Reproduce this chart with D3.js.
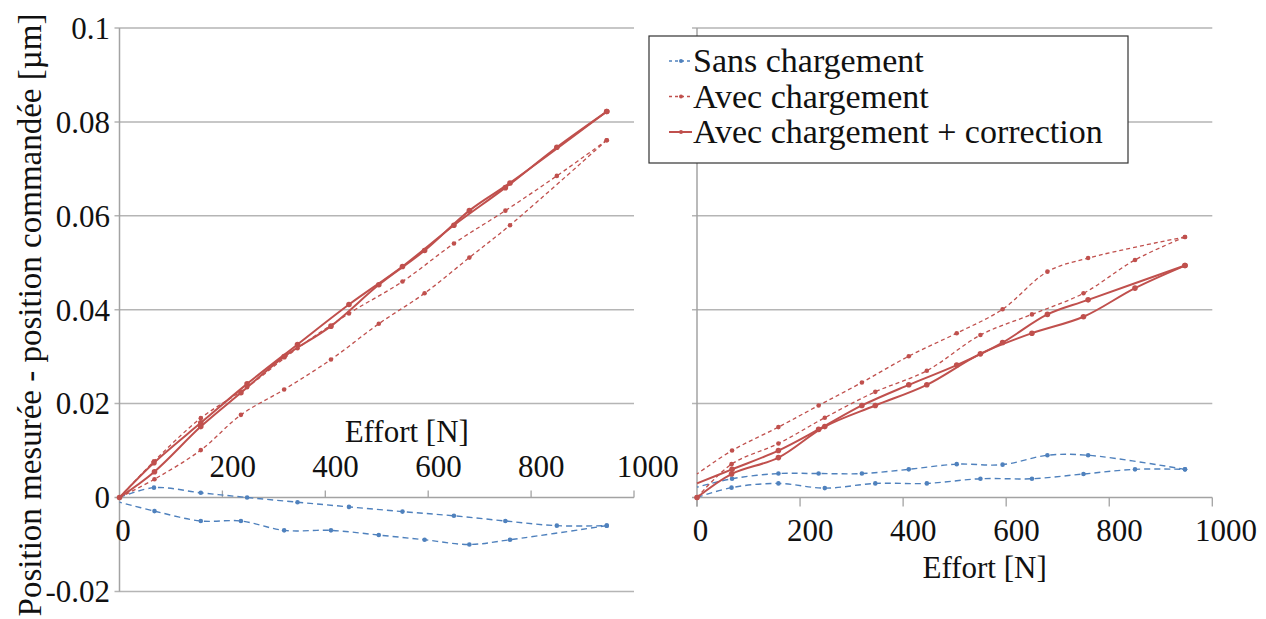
<!DOCTYPE html>
<html>
<head>
<meta charset="utf-8">
<script src="https://cdn.jsdelivr.net/npm/d3@7"></script>
<style>
  body { margin: 0; background: #fff; }
</style>
</head>
<body>
<script>
var w = 1266;
var h = 619;

// efforts [N] : montée (aller) puis descente (retour)
var effortAller  = [0, 67, 158, 248, 346, 446, 550, 650, 750, 850, 947];
var effortRetour = [947, 759, 680, 593, 504, 411, 320, 236, 158, 68, 0];

// panneau gauche
var sansG_aller  = [0, 0.0021, 0.0010, 0.0000, -0.0010, -0.0020, -0.0030, -0.0039, -0.0050, -0.0060, -0.0060];
var sansG_retour = [-0.0060, -0.0090, -0.0100, -0.0090, -0.0080, -0.0070, -0.0070, -0.0050, -0.0050, -0.0029, -0.0010];
var avecG_aller  = [0, 0.0077, 0.0169, 0.0235, 0.0318, 0.0392, 0.0460, 0.0541, 0.0611, 0.0685, 0.0761];
var avecG_retour = [0.0761, 0.0580, 0.0511, 0.0435, 0.0370, 0.0294, 0.0230, 0.0176, 0.0101, 0.0039, 0];
var corrG_aller  = [0, 0.0074, 0.0159, 0.0242, 0.0326, 0.0411, 0.0492, 0.0580, 0.0660, 0.0746, 0.0822];
var corrG_retour = [0.0822, 0.0670, 0.0611, 0.0526, 0.0453, 0.0365, 0.0300, 0.0223, 0.0151, 0.0055, 0];

// panneau droit
var sansD_aller  = [0, 0.0021, 0.0030, 0.0020, 0.0030, 0.0030, 0.0040, 0.0040, 0.0050, 0.0060, 0.0060];
var sansD_retour = [0.0060, 0.0090, 0.0090, 0.0070, 0.0071, 0.0060, 0.0051, 0.0051, 0.0051, 0.0040, 0.0022];
var avecD_aller  = [0, 0.0071, 0.0115, 0.0170, 0.0225, 0.0270, 0.0346, 0.0390, 0.0435, 0.0506, 0.0555];
var avecD_retour = [0.0555, 0.0510, 0.0481, 0.0401, 0.0350, 0.0301, 0.0245, 0.0196, 0.0150, 0.0100, 0.0050];
var corrD_aller  = [0, 0.0050, 0.0085, 0.0151, 0.0196, 0.0240, 0.0306, 0.0350, 0.0385, 0.0446, 0.0494];
var corrD_retour = [0.0494, 0.0421, 0.0390, 0.0330, 0.0282, 0.0240, 0.0196, 0.0145, 0.0100, 0.0060, 0.0030];

var xTicks = [0, 200, 400, 600, 800, 1000];
var yTicksG = [-0.02, 0, 0.02, 0.04, 0.06, 0.08, 0.1];
var yTicksD = [0, 0.02, 0.04, 0.06, 0.08, 0.1];
var legendLabels = ["Sans chargement", "Avec chargement", "Avec chargement + correction"];

var red = "#c0504d", blue = "#4f81bd";
var styles = [
  {color: blue, width: 1.4, dash: "6,4"},
  {color: red, width: 1.3, dash: "4,3"},
  {color: red, width: 2, dash: null}
];

var svg = d3.select("body").append("svg")
    .attr("width", w)
    .attr("height", h);

// texte en police serif
function label(sel, size) {
  return sel.append("text")
    .style("font-family", "Liberation Serif")
    .attr("font-size", size)
    .attr("fill", "#111");
}

var y = d3.scaleLinear().domain([0, 0.1]).range([497.5, 28]);

var panels = [
  {x: d3.scaleLinear().domain([0, 1000]).range([119.5, 634]), yTicks: yTicksG,
   series: [[sansG_aller, sansG_retour], [avecG_aller, avecG_retour], [corrG_aller, corrG_retour]],
   left: true},
  {x: d3.scaleLinear().domain([0, 1000]).range([697, 1212.3]), yTicks: yTicksD,
   series: [[sansD_aller, sansD_retour], [avecD_aller, avecD_retour], [corrD_aller, corrD_retour]],
   left: false}
];

var grid = "#b5b5b5", axisCol = "#a3a3a3";

panels.forEach(function(p) {
  var x = p.x;
  var g = svg.append("g");
  var x0 = x.range()[0], x1 = x.range()[1];

  // grille horizontale
  g.selectAll(".grid").data(p.yTicks.filter(function(d) { return d !== 0; }))
    .enter().append("line")
    .attr("x1", x0 - 5).attr("x2", x1)
    .attr("y1", function(d) { return y(d); }).attr("y2", function(d) { return y(d); })
    .attr("stroke", grid).attr("stroke-width", 1.5);

  // axe vertical
  g.append("line")
    .attr("x1", x0).attr("x2", x0)
    .attr("y1", y(0.1)).attr("y2", p.left ? y(-0.02) : y(0) + 9)
    .attr("stroke", axisCol).attr("stroke-width", 1.5);

  // axe horizontal
  g.append("line")
    .attr("x1", x0 - 5).attr("x2", x1)
    .attr("y1", y(0)).attr("y2", y(0))
    .attr("stroke", axisCol).attr("stroke-width", 1.5);

  g.selectAll(".xtick").data(p.left ? xTicks.slice(1) : xTicks)
    .enter().append("line")
    .attr("x1", function(d) { return x(d); }).attr("x2", function(d) { return x(d); })
    .attr("y1", y(0)).attr("y2", p.left ? y(0) - 7 : y(0) + 9)
    .attr("stroke", axisCol).attr("stroke-width", 1.3);

  // étiquettes de l'axe x
  xTicks.forEach(function(d) {
    var t = label(g, 31)
      .attr("y", (p.left && d !== 0) ? 477 : 541)
      .text(d);
    t.attr("x", x(d) - 0.28 * t.node().getComputedTextLength());
  });

  label(g, 31)
    .attr("text-anchor", "middle")
    .attr("x", (x0 + x1) / 2 + 30)
    .attr("y", p.left ? 442 : 578)
    .text("Effort [N]");

  // courbes
  var line = d3.line()
    .x(function(d) { return x(d[0]); })
    .y(function(d) { return y(d[1]); })
    .curve(d3.curveCatmullRom.alpha(0.5));

  p.series.forEach(function(s, i) {
    var st = styles[i];
    [[effortAller, s[0], true], [effortRetour, s[1], false]].forEach(function(pair) {
      var pts = pair[0].map(function(e, k) { return [e, pair[1][k]]; });
      g.append("path")
        .datum(pts)
        .attr("d", line)
        .attr("fill", "none")
        .attr("stroke", st.color)
        .attr("stroke-width", st.width)
        .attr("stroke-dasharray", st.dash);
      // pas de marqueur au retour à effort nul
      var marks = pair[2] ? pts : pts.slice(0, -1);
      g.selectAll(null).data(marks).enter().append("circle")
        .attr("cx", function(d) { return x(d[0]); })
        .attr("cy", function(d) { return y(d[1]); })
        .attr("r", i === 2 ? 2.8 : 2.3)
        .attr("fill", st.color);
    });
  });
});

// étiquettes de l'axe y (panneau gauche)
yTicksG.forEach(function(d) {
  label(svg, 31)
    .attr("text-anchor", "end")
    .attr("x", 110)
    .attr("y", y(d))
    .attr("dy", "0.35em")
    .text(d < 0 ? "-" + (-d) : d);
});

label(svg, 33)
  .attr("text-anchor", "middle")
  .attr("transform", "translate(41,315) rotate(-90)")
  .text("Position mesurée - position commandée [µm]");

// légende
var leg = svg.append("g");
leg.append("rect")
  .attr("x", 649).attr("y", 36)
  .attr("width", 479).attr("height", 127)
  .attr("fill", "#fff").attr("stroke", "#333").attr("stroke-width", 1.2);

legendLabels.forEach(function(l, i) {
  var st = styles[i];
  var yy = 61 + i * 35.5;
  leg.append("line")
    .attr("x1", 669).attr("x2", 692)
    .attr("y1", yy).attr("y2", yy)
    .attr("stroke", st.color).attr("stroke-width", st.width)
    .attr("stroke-dasharray", i === 2 ? null : "3,3");
  leg.append("circle")
    .attr("cx", 681).attr("cy", yy).attr("r", 2)
    .attr("fill", st.color);
  label(leg, 34)
    .attr("x", 693)
    .attr("y", 72 + i * 35.5)
    .text(l);
});
</script>
</body>
</html>
